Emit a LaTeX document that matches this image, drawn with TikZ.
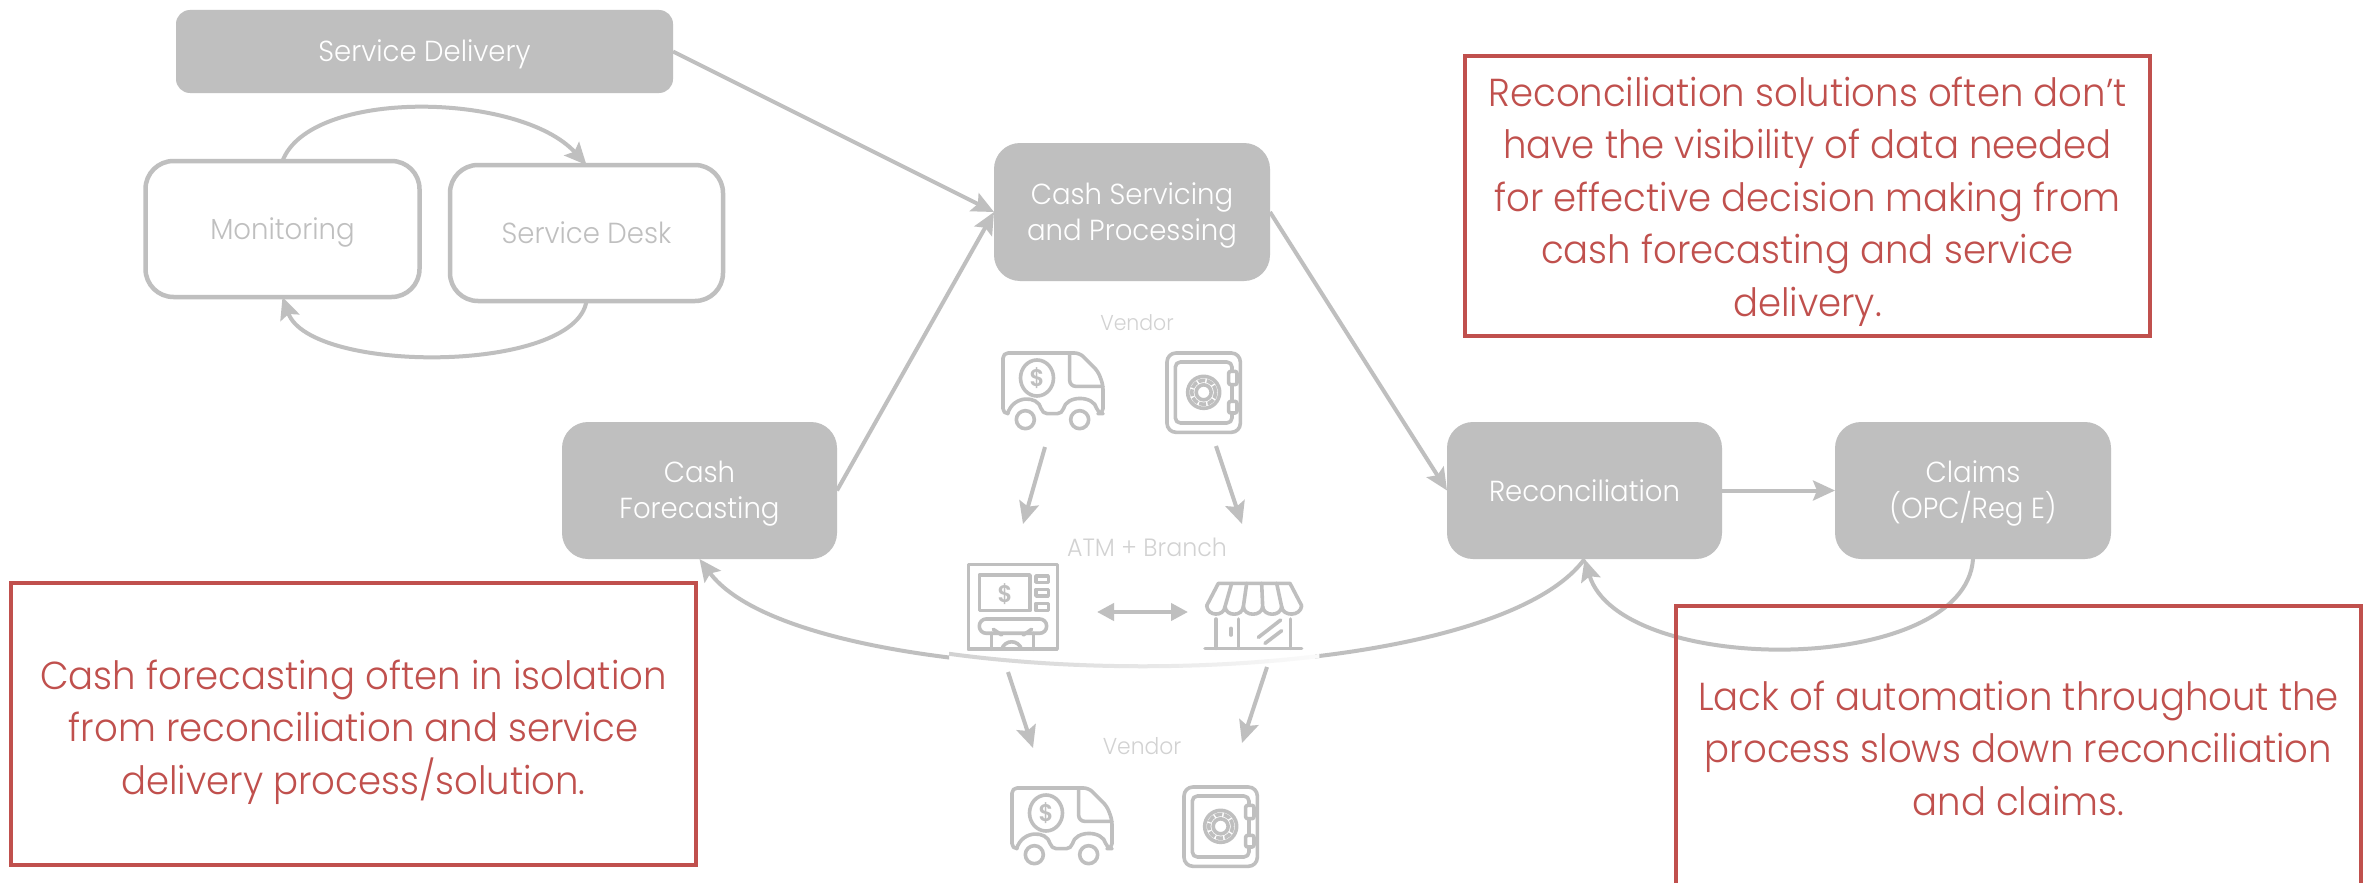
\documentclass[tikz,border=0pt]{standalone}
\usepackage{fontspec}
\usetikzlibrary{arrows.meta}
\setmainfont[FakeStretch=0.95]{Poppins Light}
\definecolor{gr}{HTML}{BFBFBF}
\definecolor{lb}{HTML}{D2D2D2}
\definecolor{rd}{HTML}{C0504D}
\newcommand{\lowerline}{\rule{0pt}{28pt}}
\tikzset{
 solidbox/.style={rectangle,fill=gr,text=white,rounded corners=26pt,inner sep=0pt,outer sep=0pt,align=center,font=\fontsize{29}{36}\selectfont},
 openbox/.style={rectangle,draw=gr,line width=4.5pt,rounded corners=28pt,inner sep=0pt,outer sep=0pt,align=center,text=gr,font=\fontsize{29}{36}\selectfont},
 redbox/.style={rectangle,draw=rd,line width=4pt,inner sep=0pt,outer sep=0pt,align=center,text=rd,minimum width=685pt,font=\fontsize{39}{52.5}\selectfont},
 smalllabel/.style={text=lb,inner sep=0pt,font=\fontsize{21.5}{26}\selectfont},
 conn/.style={draw=gr,line width=4pt,-{Stealth[length=22pt,width=20pt,inset=4pt]}},
 plainconn/.style={draw=gr,line width=4pt},
 conntwo/.style={draw=gr,line width=4pt,{Stealth[length=17pt,width=17pt,inset=0pt]}-{Stealth[length=17pt,width=17pt,inset=0pt]}},
 icon/.style={draw=gr,line width=3.6pt,line cap=round,line join=round},
 iconsym/.style={text=gr,inner sep=0pt,font=\fontsize{24}{24}\selectfont\bfseries},
 truckicon/.pic={
  \begin{scope}[x=0.3333pt,y=-0.3333pt]
   \draw[icon,rounded corners=5pt] (14,182) -- (0,182) -- (0,0) -- (230,0) -- (285,55) -- (300,95) -- (300,182) -- (285,182)
     .. controls (272,126) and (190,126) .. (178,182) -- (118,182) .. controls (105,126) and (30,126) .. (14,182);
   \draw[icon,rounded corners=6pt] (200,0) -- (200,100) -- (300,100);
   \draw[icon] (102,75) ellipse [x radius=16.5pt,y radius=18pt];
   \draw[icon] (67,200) circle [radius=9pt];
   \draw[icon] (230,200) circle [radius=9pt];
   \node[iconsym] (-d) at (102,75) {\$};
  \end{scope}
 },
 safeicon/.pic={
  \begin{scope}[x=0.3333pt,y=-0.3333pt]
   \draw[icon,rounded corners=9pt] (0,0) rectangle (220,238);
   \draw[icon,rounded corners=5pt] (25,27) rectangle (195,210);
   \draw[icon] (110,118) circle [radius=7.5pt];
   \draw[icon] (110,118) circle [radius=16pt];
   \draw[draw=gr,line width=3.6pt,dash pattern=on 7pt off 1.6pt] (110,118) circle [radius=12pt];
   \draw[icon,fill=white,rounded corners=2pt] (185,55) rectangle (210,95);
   \draw[icon,fill=white,rounded corners=2pt] (185,145) rectangle (210,180);
  \end{scope}
 },
 atmicon/.pic={
  \begin{scope}[x=0.3333pt,y=-0.3333pt]
   \draw[icon] (0,0) rectangle (267,255);
   \draw[icon] (33,32) rectangle (185,139);
   \draw[icon] (203,35) rectangle (240,54);
   \draw[icon] (203,75) rectangle (240,95);
   \draw[icon] (203,117) rectangle (240,139);
   \draw[icon,rounded corners=7pt] (33,164) rectangle (235,207);
   \draw[icon] (70,207) -- (70,255) (195,207) -- (195,255);
   \draw[icon] (75,195) -- (100,212) (190,195) -- (165,212);
   \draw[icon] (100,255) .. controls (110,225) and (150,225) .. (160,255);
   \node[iconsym] (-d) at (110,89) {\$};
  \end{scope}
 },
 shopicon/.pic={
  \begin{scope}[x=0.3333pt,y=-0.3333pt]
   \draw[icon] (5,72) -- (40,5) -- (255,5) -- (290,72);
   \draw[icon] (5,72) .. controls (8,105) and (57,105) .. (60,75) .. controls (63,105) and (112,105) .. (115,75)
     .. controls (118,105) and (170,105) .. (173,75) .. controls (176,105) and (227,105) .. (230,75) .. controls (233,105) and (287,105) .. (290,72);
   \draw[icon] (80,5) -- (60,75) (125,5) -- (115,75) (170,5) -- (173,75) (215,5) -- (230,75);
   \draw[icon] (33,112) -- (33,200) (100,112) -- (100,200) (257,112) -- (257,200);
   \draw[icon] (0,200) -- (290,200);
   \draw[icon] (78,140) -- (78,160);
   \draw[icon] (160,167) -- (227,115) (180,185) -- (230,147);
  \end{scope}
 }
}
\begin{document}
\begin{tikzpicture}[x=1pt,y=-1pt]
\clip (0,0) rectangle (2374,883);
\fill[white] (0,0) rectangle (2374,883);
% process boxes
\node[solidbox,minimum width=497pt,minimum height=83pt,rounded corners=14pt] (sd) at (424.5,51.5) {\lowerline Service Delivery};
\node[openbox,minimum width=274pt,minimum height=136pt] (mon) at (282.5,229) {\lowerline Monitoring};
\node[openbox,minimum width=273pt,minimum height=136pt] (desk) at (586.5,233) {Service Desk};
\node[solidbox,minimum width=276pt,minimum height=138pt] (csp) at (1132,212) {\lowerline Cash Servicing\\and Processing};
\node[solidbox,minimum width=275pt,minimum height=137pt] (cf) at (699.5,490.5) {\lowerline Cash\\Forecasting};
\node[solidbox,minimum width=275pt,minimum height=137pt] (rec) at (1584.5,490.5) {Reconciliation};
\node[solidbox,minimum width=276pt,minimum height=137pt] (cl) at (1973,490.5) {\lowerline Claims\\(OPC/Reg E)};
% labels
\node[smalllabel] (v1) at (1137,323) {Vendor};
\node[smalllabel,font=\fontsize{25}{30}\selectfont] (ab) at (1147,547) {ATM + Branch};
\node[smalllabel,font=\fontsize{23}{28}\selectfont] (v2) at (1142,746) {Vendor};
% arc with faded middle
\def\arcpath{(rec.south) .. controls (1480,702) and (806,702) .. (cf.south)}
\begin{scope}
 \clip (600,540) rectangle (949,700);
 \draw[conn] \arcpath;
\end{scope}
\begin{scope}
 \clip (1315,540) rectangle (1600,700);
 \draw[plainconn] \arcpath;
\end{scope}
\foreach \i in {0,...,36}{
 \pgfmathsetmacro{\pp}{70-62*\i/36}
 \pgfmathsetmacro{\xa}{949+10*\i}
 \pgfmathsetmacro{\xb}{\xa+10.4}
 \begin{scope}
  \clip (\xa,630) rectangle (\xb,690);
  \draw[gr!\pp!white,line width=4pt] \arcpath;
 \end{scope}
}
% connectors
\draw[conn] (sd.east) -- (csp.west);
\draw[conn] (cf.east) -- (csp.west);
\draw[conn] (csp.east) -- (rec.west);
\draw[conn] (rec.east) -- (cl.west);
\draw[conn] (mon.north) .. controls (310,88) and (520,92) .. (desk.north);
\draw[conn] (desk.south) .. controls (575,374) and (310,374) .. (mon.south);
\draw[conn] (cl.south) .. controls (1965,677) and (1620,677) .. (rec.south);
% icons
\pic (t1) at (1003,353) {truckicon};
\pic (s1) at (1167,353) {safeicon};
\pic (t2) at (1012,788) {truckicon};
\pic (s2) at (1184,787) {safeicon};
\pic (atm) at (968.3,564.3) {atmicon};
\pic (shop) at (1205,581.7) {shopicon};
\coordinate (a1s) at (1045,447); \coordinate (a1e) at (1023,524);
\coordinate (a2s) at (1216,446); \coordinate (a2e) at (1242,524);
\coordinate (a3s) at (1008,672); \coordinate (a3e) at (1033,748);
\coordinate (a4s) at (1267,667); \coordinate (a4e) at (1242,743);
\coordinate (das) at (1097,612); \coordinate (dae) at (1188,612);
\draw[conn] (a1s) -- (a1e);
\draw[conn] (a2s) -- (a2e);
\draw[conn] (a3s) -- (a3e);
\draw[conn] (a4s) -- (a4e);
\draw[conntwo] (das) -- (dae);
% callouts
\node[redbox,minimum height=280pt] (r1) at (1807.5,196) {\rule{0pt}{41pt}Reconciliation solutions often don’t\\have the visibility of data needed\\for effective decision making from\\cash forecasting and service\\delivery.};
\node[redbox,minimum height=282pt] (r2) at (353.5,724) {\rule{0pt}{46pt}Cash forecasting often in isolation\\from reconciliation and service\\delivery process/solution.};
\node[redbox,minimum height=284pt] (r3) at (2018.5,748) {Lack of automation throughout the\\process slows down reconciliation\\and claims.};
\end{tikzpicture}
\end{document}
